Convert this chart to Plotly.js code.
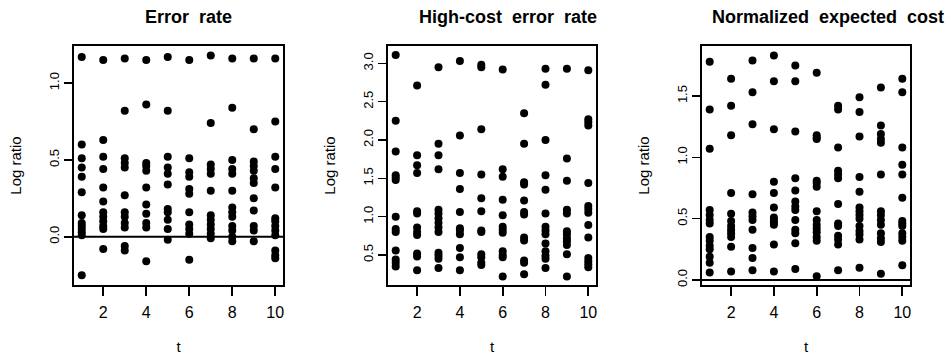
<!DOCTYPE html>
<html>
<head>
<meta charset="utf-8">
<script src="https://cdn.plot.ly/plotly-3.0.1.min.js"></script>
<style>
  html, body { margin: 0; padding: 0; background: #ffffff; }
  #chart { width: 951px; height: 363px; }
</style>
</head>
<body>
<div id="chart"></div>
<script>
// ---- data ----
const tValues = [1, 2, 3, 4, 5, 6, 7, 8, 9, 10];
const panelTitles = ["Error\u00a0\u00a0rate", "High-cost\u00a0\u00a0error\u00a0\u00a0rate", "Normalized\u00a0\u00a0expected\u00a0\u00a0cost"];
const xTickVals = [2, 4, 6, 8, 10];
const xTickText = ["2", "4", "6", "8", "10"];
const yTickVals1 = [0, 0.5, 1.0];
const yTickText1 = ["0.0", "0.5", "1.0"];
const yTickVals2 = [0.5, 1.0, 1.5, 2.0, 2.5, 3.0];
const yTickText2 = ["0.5", "1.0", "1.5", "2.0", "2.5", "3.0"];
const yTickVals3 = [0, 0.5, 1.0, 1.5];
const yTickText3 = ["0.0", "0.5", "1.0", "1.5"];

// Error rate: log ratios per t
const errorRate = [
  [1.17, 0.60, 0.51, 0.45, 0.39, 0.29, 0.14, 0.09, 0.07, 0.05, 0.03, 0.01, -0.25],
  [1.15, 0.63, 0.52, 0.44, 0.32, 0.23, 0.16, 0.13, 0.10, 0.07, 0.05, -0.08],
  [1.16, 0.82, 0.51, 0.48, 0.45, 0.27, 0.16, 0.13, 0.09, 0.06, -0.06, -0.09],
  [1.15, 0.86, 0.48, 0.46, 0.43, 0.32, 0.21, 0.15, 0.09, 0.06, -0.16],
  [1.17, 0.82, 0.52, 0.45, 0.41, 0.34, 0.18, 0.16, 0.11, 0.05, -0.02],
  [1.15, 0.51, 0.42, 0.39, 0.31, 0.28, 0.16, 0.08, 0.05, 0.02, -0.15],
  [1.18, 0.74, 0.47, 0.44, 0.41, 0.30, 0.14, 0.11, 0.08, 0.05, 0.02, -0.01],
  [1.16, 0.84, 0.50, 0.44, 0.41, 0.30, 0.19, 0.16, 0.13, 0.07, 0.04, 0.00, -0.03],
  [1.16, 0.70, 0.49, 0.46, 0.43, 0.38, 0.35, 0.25, 0.17, 0.07, 0.04, -0.03],
  [1.16, 0.75, 0.52, 0.44, 0.32, 0.12, 0.10, 0.07, 0.04, 0.01, -0.09, -0.12, -0.14]
];

// High-cost error rate
const highCostErrorRate = [
  [3.11, 2.25, 1.85, 1.54, 1.51, 1.48, 1.00, 0.84, 0.80, 0.56, 0.44, 0.40, 0.35],
  [2.71, 1.80, 1.67, 1.57, 1.07, 1.04, 0.86, 0.80, 0.76, 0.52, 0.48, 0.30],
  [2.95, 1.95, 1.80, 1.62, 1.09, 1.04, 0.98, 0.92, 0.86, 0.80, 0.53, 0.49, 0.45, 0.33],
  [3.03, 2.06, 1.57, 1.36, 1.06, 0.85, 0.82, 0.77, 0.59, 0.47, 0.30],
  [2.98, 2.95, 2.14, 1.55, 1.24, 1.07, 0.82, 0.80, 0.51, 0.47, 0.40, 0.37],
  [2.92, 1.62, 1.52, 1.22, 1.02, 0.87, 0.83, 0.79, 0.55, 0.50, 0.47, 0.22],
  [2.35, 1.95, 1.45, 1.42, 1.21, 1.06, 1.03, 0.73, 0.69, 0.43, 0.40, 0.25],
  [2.93, 2.72, 2.00, 1.54, 1.35, 1.04, 0.87, 0.82, 0.77, 0.65, 0.55, 0.49, 0.45, 0.33],
  [2.93, 1.76, 1.47, 1.09, 1.04, 0.81, 0.77, 0.72, 0.68, 0.63, 0.51, 0.22],
  [2.91, 2.27, 2.23, 2.19, 1.44, 1.14, 1.10, 1.05, 0.89, 0.73, 0.46, 0.42, 0.38, 0.34]
];

// Normalized expected cost
const normExpectedCost = [
  [1.78, 1.39, 1.07, 0.57, 0.53, 0.49, 0.46, 0.35, 0.32, 0.28, 0.25, 0.19, 0.14, 0.06],
  [1.64, 1.42, 1.18, 0.71, 0.54, 0.48, 0.44, 0.41, 0.38, 0.35, 0.27, 0.07],
  [1.79, 1.53, 1.27, 0.70, 0.55, 0.52, 0.49, 0.41, 0.26, 0.18, 0.08],
  [1.83, 1.62, 1.23, 0.80, 0.71, 0.59, 0.51, 0.49, 0.47, 0.45, 0.29, 0.07],
  [1.75, 1.62, 1.21, 0.83, 0.73, 0.64, 0.60, 0.57, 0.49, 0.41, 0.38, 0.30, 0.09],
  [1.69, 1.18, 1.16, 1.15, 0.81, 0.79, 0.76, 0.56, 0.49, 0.45, 0.42, 0.39, 0.35, 0.32, 0.03],
  [1.42, 1.39, 1.08, 0.89, 0.86, 0.83, 0.62, 0.46, 0.44, 0.36, 0.33, 0.29, 0.08],
  [1.49, 1.37, 1.17, 0.84, 0.72, 0.59, 0.56, 0.53, 0.50, 0.44, 0.40, 0.37, 0.33, 0.10],
  [1.57, 1.26, 1.19, 1.15, 1.12, 0.86, 0.56, 0.53, 0.49, 0.45, 0.38, 0.34, 0.31, 0.05],
  [1.64, 1.53, 1.08, 0.94, 0.86, 0.67, 0.48, 0.46, 0.44, 0.38, 0.35, 0.32, 0.12]
];

// ---- build traces ----
function flatten(cols) {
  const xs = [], ys = [];
  cols.forEach((col, i) => col.forEach(v => { xs.push(tValues[i]); ys.push(v); }));
  return { x: xs, y: ys };
}
const marker = { color: "#000000", size: 8, line: { width: 0 } };
const d1 = flatten(errorRate), d2 = flatten(highCostErrorRate), d3 = flatten(normExpectedCost);
const traces = [
  { type: "scatter", mode: "markers", x: d1.x, y: d1.y, xaxis: "x", yaxis: "y", marker: marker, hoverinfo: "skip" },
  { type: "scatter", mode: "markers", x: d2.x, y: d2.y, xaxis: "x2", yaxis: "y2", marker: marker, hoverinfo: "skip" },
  { type: "scatter", mode: "markers", x: d3.x, y: d3.y, xaxis: "x3", yaxis: "y3", marker: marker, hoverinfo: "skip" }
];

// ---- layout ----
const W = 951, H = 363;
const regular = "Liberation Sans, Arial, Helvetica, sans-serif";
const yDom = [1 - 285 / H, 1 - 46 / H];

function xAxis(left, right) {
  return {
    domain: [left / W, right / W], range: [0.64, 10.36],
    tickmode: "array", tickvals: xTickVals, ticktext: xTickText,
    showline: true, mirror: true, linecolor: "#000", linewidth: 1.6,
    ticks: "outside", ticklen: 9, tickwidth: 1.6, tickcolor: "#000",
    ticklabelstandoff: 3,
    showgrid: false, zeroline: false,
    tickfont: { family: regular, size: 16, color: "#000" },
    title: { text: "t", font: { family: regular, size: 15, color: "#000" }, standoff: 22 }
  };
}
function yAxis(anchor, range, vals, text) {
  return {
    domain: yDom, anchor: anchor, range: range,
    tickmode: "array", tickvals: vals, ticktext: text, tickangle: -90,
    showline: true, mirror: true, linecolor: "#000", linewidth: 1.6,
    ticks: "outside", ticklen: 8, tickwidth: 1.6, tickcolor: "#000",
    showgrid: false, zeroline: false,
    tickfont: { family: regular, size: 13, color: "#000" },
    title: { text: "Log ratio", font: { family: regular, size: 15, color: "#000" }, standoff: 22 }
  };
}

const layout = {
  width: W, height: H,
  margin: { l: 0, r: 0, t: 0, b: 0 },
  paper_bgcolor: "#ffffff", plot_bgcolor: "#ffffff",
  showlegend: false,
  xaxis: Object.assign(xAxis(74, 283), { anchor: "y" }),
  xaxis2: Object.assign(xAxis(388, 596), { anchor: "y2" }),
  xaxis3: Object.assign(xAxis(702, 910), { anchor: "y3" }),
  yaxis: yAxis("x", [-0.314, 1.241], yTickVals1, yTickText1),
  yaxis2: yAxis("x2", [0.109, 3.226], yTickVals2, yTickText2),
  yaxis3: yAxis("x3", [-0.041, 1.908], yTickVals3, yTickText3),
  shapes: [
    { type: "line", xref: "x domain", yref: "y", x0: 0, x1: 1, y0: 0, y1: 0, line: { color: "#000", width: 2 } },
    { type: "line", xref: "x3 domain", yref: "y3", x0: 0, x1: 1, y0: 0, y1: 0, line: { color: "#000", width: 2 } }
  ],
  annotations: [
    { text: panelTitles[0], x: 188 / W, y: 1 - 17 / H },
    { text: panelTitles[1], x: 508 / W, y: 1 - 17 / H },
    { text: panelTitles[2], x: 828 / W, y: 1 - 17 / H }
  ].map(a => Object.assign(a, {
    xref: "paper", yref: "paper", xanchor: "center", yanchor: "middle", showarrow: false,
    font: { family: regular, size: 18, color: "#000", weight: "bold" }
  }))
};

Plotly.newPlot("chart", traces, layout, { staticPlot: true, displayModeBar: false });
</script>
</body>
</html>
